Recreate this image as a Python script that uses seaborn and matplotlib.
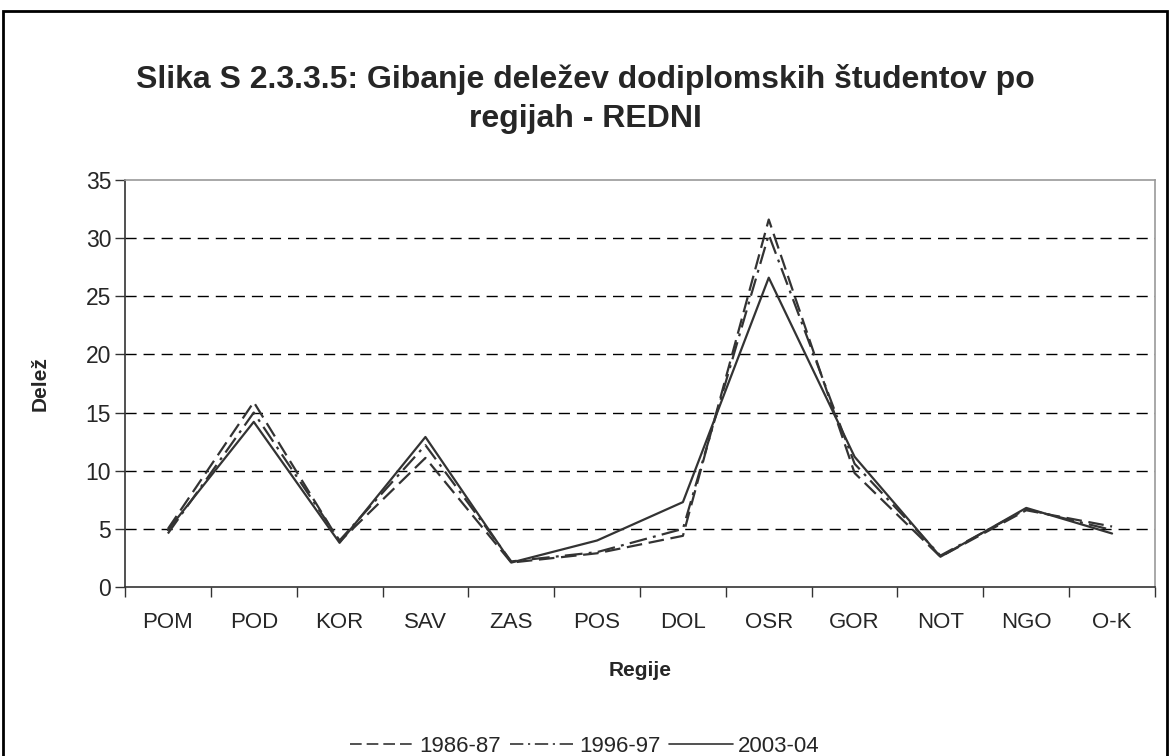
import matplotlib
matplotlib.use('Agg')
import matplotlib.pyplot as plt
from matplotlib.patches import Rectangle
from matplotlib.ticker import FixedLocator, MultipleLocator
import seaborn as sns
import pandas as pd

regije = ['POM', 'POD', 'KOR', 'SAV', 'ZAS', 'POS', 'DOL', 'OSR', 'GOR', 'NOT', 'NGO', 'O-K']
leta = ['1986-87', '1996-97', '2003-04']
delez_1986 = [5.0, 15.9, 3.9, 11.1, 2.1, 2.9, 4.4, 31.6, 9.8, 2.6, 6.6, 5.2]
delez_1996 = [4.6, 15.0, 4.0, 12.2, 2.2, 3.0, 5.0, 30.3, 10.6, 2.7, 6.7, 4.9]
delez_2003 = [4.9, 14.2, 3.8, 12.9, 2.1, 4.0, 7.3, 26.6, 11.2, 2.6, 6.8, 4.6]

df = pd.DataFrame({
    'Regija': regije * 3,
    'Delež': delez_1986 + delez_1996 + delez_2003,
    'Leto': [l for l in leta for _ in regije],
})

sns.set_style('white')
plt.rcParams['font.family'] = ['Liberation Sans', 'DejaVu Sans']

fig = plt.figure(figsize=(11.7, 7.56), dpi=100)
ax = fig.add_axes([125 / 1170, 169 / 756, 1030 / 1170, 407 / 756])

sns.lineplot(
    data=df, x='Regija', y='Delež', hue='Leto', style='Leto', sort=False,
    palette={'1986-87': '#333333', '1996-97': '#333333', '2003-04': '#333333'},
    dashes={'1986-87': (7, 3), '1996-97': (8, 2.8, 1.3, 2.8), '2003-04': ''},
    linewidth=1.6, ax=ax, legend=True,
)

ax.set_ylim(0, 35)
ax.set_xlim(-0.5, len(regije) - 0.5)
ax.yaxis.set_major_locator(MultipleLocator(5))
for v in range(5, 35, 5):
    ax.axhline(v, color='black', lw=1.0, ls=(0, (8, 5)), zorder=0)

ax.set_xticks(range(len(regije)))
ax.set_xticklabels(regije)
ax.xaxis.set_minor_locator(FixedLocator([i - 0.5 for i in range(len(regije) + 1)]))
ax.tick_params(axis='x', which='major', length=0, pad=18, labelsize=16)
ax.tick_params(axis='x', which='minor', length=7, width=1, color='#333333', direction='out')
ax.tick_params(axis='y', length=7, width=1, color='#333333', direction='out', labelsize=16.5, pad=3)
ax.tick_params(bottom=True, left=True, which='both')

for s in ['top', 'right']:
    ax.spines[s].set_color('#999999')
    ax.spines[s].set_linewidth(1.2)
for s in ['left', 'bottom']:
    ax.spines[s].set_color('#333333')
    ax.spines[s].set_linewidth(1.2)

ax.set_xlabel('Regije', fontsize=15, fontweight='bold', labelpad=20)
ax.set_ylabel('Delež', fontsize=15, fontweight='bold', labelpad=26)

fig.suptitle('Slika S 2.3.3.5: Gibanje deležev dodiplomskih študentov po\nregijah - REDNI',
             fontsize=23, fontweight='bold', y=0.915, linespacing=1.4)

handles, labels = ax.get_legend_handles_labels()
ax.get_legend().remove()
for h in handles:
    h.set_linewidth(1.2)
fig.legend(handles, labels, loc='lower center', bbox_to_anchor=(0.5, -0.028), ncol=3,
           frameon=False, fontsize=16, handlelength=2.9, columnspacing=0.4, handletextpad=0.2)

fig.patches.append(Rectangle((3 / 1170, -0.05), 1164 / 1170, 1.05 - 11 / 756,
                             transform=fig.transFigure, fill=False, edgecolor='black', lw=2))

fig.savefig('out.png', dpi=100)
